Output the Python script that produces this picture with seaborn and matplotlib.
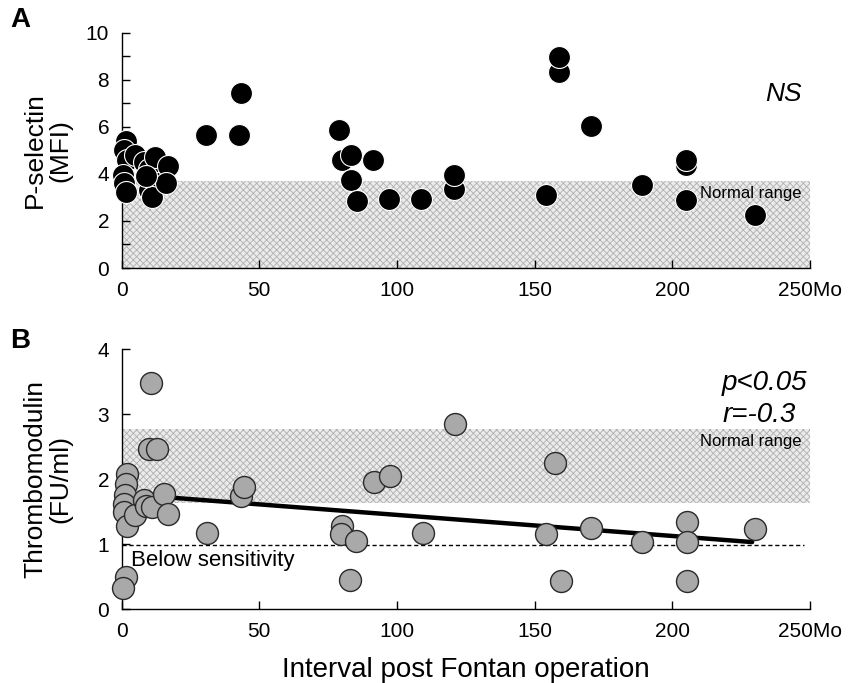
import numpy as np
import pandas as pd
import matplotlib
matplotlib.use('Agg')
import matplotlib.pyplot as plt
import seaborn as sns

sns.set_style('ticks')
plt.rcParams['font.family'] = ['Liberation Sans', 'DejaVu Sans']
plt.rcParams['hatch.linewidth'] = 0.6
plt.rcParams['text.color'] = 'black'
plt.rcParams['axes.labelcolor'] = 'black'

# A: P-selectin (MFI) vs months after Fontan
psel_x = [1.5, 1.0, 2.0, 5.0, 0.5, 1.0, 1.5, 8.0, 10.0, 12.0, 13.0, 10.0, 11.0, 17.0, 16.0, 9.0,
          30.7, 42.7, 43.3, 78.8, 80.2, 83.2, 91.2, 83.2, 85.6, 97.2, 108.9, 120.7, 120.7,
          154.0, 158.8, 158.8, 170.4, 189.0, 204.9, 204.9, 204.9, 230.0]
psel_y = [5.4, 5.0, 4.6, 4.8, 3.95, 3.6, 3.25, 4.5, 4.2, 4.7, 3.6, 3.3, 3.0, 4.35, 3.6, 3.9,
          5.64, 5.64, 7.44, 5.89, 4.6, 4.79, 4.58, 3.73, 2.83, 2.95, 2.95, 3.37, 3.94,
          3.09, 8.33, 8.97, 6.02, 3.54, 4.36, 4.58, 2.9, 2.24]
psel_normal = [0.0, 3.68]

# B: Thrombomodulin (FU/ml)
tm_x = [2.0, 1.5, 1.2, 1.0, 1.0, 2.0, 5.0, 8.0, 9.0, 11.0, 15.5, 17.0, 10.8, 9.8, 12.8, 1.6, 0.6,
        31.0, 43.4, 44.4, 80.0, 79.5, 85.0, 83.0, 91.5, 97.5, 109.5, 120.9, 154.1, 157.5,
        159.5, 170.5, 189.1, 205.2, 205.2, 205.2, 230.0]
tm_y = [2.07, 1.93, 1.75, 1.62, 1.50, 1.28, 1.45, 1.68, 1.58, 1.57, 1.77, 1.46, 3.47, 2.46, 2.46, 0.50, 0.32,
        1.17, 1.74, 1.87, 1.28, 1.16, 1.05, 0.44, 1.95, 2.05, 1.17, 2.85, 1.16, 2.24,
        0.43, 1.24, 1.03, 1.34, 1.03, 0.43, 1.23]
tm_normal = [1.63, 2.77]
tm_sensitivity = 0.98
fit_x = [16, 229]
fit_y = [1.72, 1.03]

x_ticks = [0, 50, 100, 150, 200, 250]
x_labels = ['0', '50', '100', '150', '200', '250Mo']

fig = plt.figure(figsize=(8.66, 6.83), dpi=100)
axA = fig.add_axes([0.1405, 0.6076, 0.7948, 0.3443])
axB = fig.add_axes([0.1405, 0.1083, 0.7948, 0.3807])


def style_axis(ax, ymax, yticks, ylabels, minor=None):
    ax.set_xlim(0, 250)
    ax.set_ylim(0, ymax)
    ax.set_xticks(x_ticks)
    ax.set_xticklabels(x_labels)
    ax.set_yticks(yticks)
    ax.set_yticklabels(ylabels)
    if minor is not None:
        ax.set_yticks(minor, minor=True)
    sns.despine(ax=ax)
    for s in ['left', 'bottom']:
        ax.spines[s].set_linewidth(1.0)
        ax.spines[s].set_color('black')
    ax.tick_params(which='both', direction='in', length=6, width=1, labelsize=15, colors='black')
    ax.tick_params(axis='x', pad=9)
    ax.tick_params(axis='y', pad=9)
    ax.grid(False)


shade = dict(facecolor='#ebebeb', edgecolor='#b0b0b0', hatch='xxxxx', linewidth=0, zorder=0)

# --- panel A
axA.fill_between([0, 250], psel_normal[0], psel_normal[1], **shade)
sns.scatterplot(x=psel_x, y=psel_y, ax=axA, s=250, color='black', edgecolor='white',
                linewidth=0.8, clip_on=False, zorder=3, legend=False)
style_axis(axA, 10, [0, 2, 4, 6, 8, 10], ['0', '2', '4', '6', '8', '10'],
           minor=[1, 3, 5, 7, 9])
axA.set_ylabel('P-selectin\n(MFI)', fontsize=19, linespacing=1.05)
axA.yaxis.set_label_coords(-0.072, 0.5)
axA.text(247, 7.4, 'NS', fontsize=19, style='italic', ha='right', va='center')
axA.text(247, 3.16, 'Normal range', fontsize=12, ha='right', va='center')

# --- panel B
axB.fill_between([0, 250], tm_normal[0], tm_normal[1], **shade)
axB.plot([0, 248], [tm_sensitivity, tm_sensitivity], ls=(0, (3, 2)), color='black', lw=1, zorder=1)
sns.lineplot(x=fit_x, y=fit_y, ax=axB, color='black', lw=3.2, zorder=2)
sns.scatterplot(x=tm_x, y=tm_y, ax=axB, s=250, color='#a9a9a9', edgecolor='#2a2a2a',
                linewidth=1.0, clip_on=False, zorder=3, legend=False)
style_axis(axB, 4, [0, 1, 2, 3, 4], ['0', '1', '2', '3', '4'])
axB.set_ylabel('Thrombomodulin\n(FU/ml)', fontsize=19, linespacing=1.05)
axB.yaxis.set_label_coords(-0.072, 0.5)
axB.set_xlabel('Interval post Fontan operation', fontsize=20, labelpad=12)
axB.text(249, 3.47, 'p<0.05', fontsize=20, style='italic', ha='right', va='center')
axB.text(245, 2.99, 'r=-0.3', fontsize=20, style='italic', ha='right', va='center')
axB.text(247, 2.58, 'Normal range', fontsize=12, ha='right', va='center')
axB.text(3.4, 0.74, 'Below sensitivity', fontsize=16, ha='left', va='center')

fig.text(0.012, 0.971, 'A', fontsize=20, fontweight='bold', ha='left', va='center')
fig.text(0.012, 0.501, 'B', fontsize=20, fontweight='bold', ha='left', va='center')

fig.savefig('out.png', dpi=100)
